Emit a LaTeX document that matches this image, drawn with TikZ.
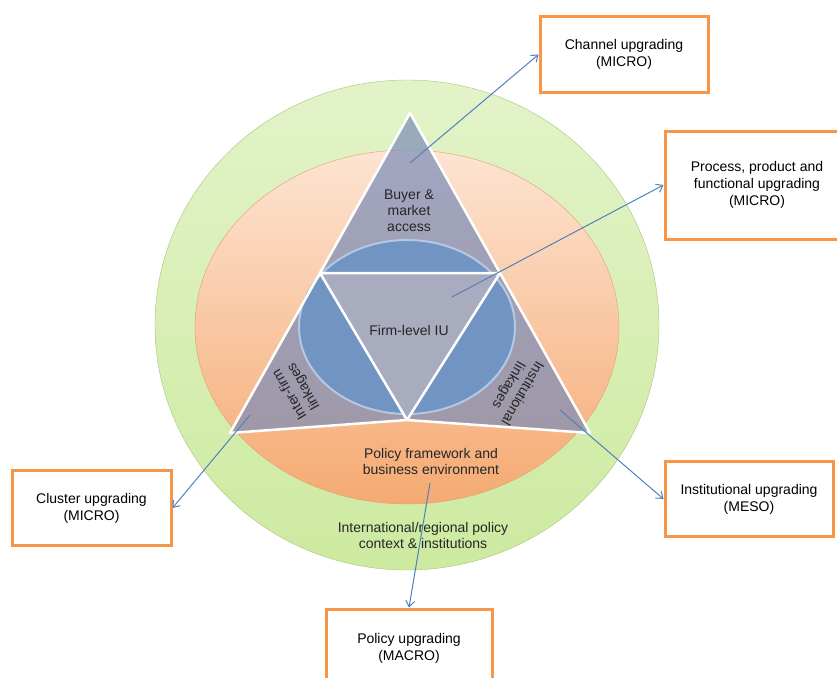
\documentclass[tikz,border=0pt]{standalone}
\usepackage{fontspec}
\setmainfont{Liberation Sans}
\usetikzlibrary{arrows.meta}
\definecolor{greentop}{HTML}{E3F3C9}
\definecolor{greenbot}{HTML}{CDEAA0}
\definecolor{greenline}{HTML}{A9C47A}
\definecolor{orangetop}{HTML}{FDE4D2}
\definecolor{orangebot}{HTML}{F5AA72}
\definecolor{orangeline}{HTML}{E0A070}
\definecolor{trifill}{rgb}{0.48,0.55,0.72}
\definecolor{midgray}{HTML}{A9ABBF}
\definecolor{ellipseblue}{HTML}{7194C3}
\definecolor{ellipseline}{HTML}{B4C8E4}
\definecolor{boxorange}{HTML}{F79646}
\definecolor{linkblue}{HTML}{4F81BD}
\begin{document}
\begin{tikzpicture}[x=1pt, y=-1pt,
  txt/.style={align=center, text=black!85, font=\fontsize{14}{16}\selectfont},
  upgrade/.style={draw=boxorange, line width=3pt, fill=white, minimum width=168pt,
    minimum height=75pt, align=center, font=\fontsize{14}{17}\selectfont},
  link/.style={draw=linkblue, line width=1pt, -{Straight Barb[length=6pt,width=9pt]}}]
  \useasboundingbox (0,0) rectangle (837,677);
  \coordinate (T) at (410,113);
  \coordinate (L) at (230,433);
  \coordinate (R) at (590,433);
  \coordinate (M) at (407,420);
  \coordinate (TL) at (320,273);
  \coordinate (TR) at (500,273);
  % rings
  \draw[greenline, top color=greentop, bottom color=greenbot]
    (407,325) ellipse [x radius=252, y radius=245];
  \draw[orangeline, top color=orangetop, bottom color=orangebot]
    (407,327) ellipse [x radius=212, y radius=177];
  % triangles
  \fill[trifill, fill opacity=.7] (T) -- (L) -- (M) -- (R) -- cycle;
  \draw[ellipseline, fill=ellipseblue, line width=2pt]
    (407,327) ellipse [x radius=108, y radius=87];
  \fill[midgray] (TL) -- (TR) -- (M) -- cycle;
  \draw[white, line width=2.5pt, line join=round]
    (T) -- (L) -- (M) -- (R) -- cycle (TL) -- (TR) -- (M) -- cycle;
  \node[txt] (buyer) at (409,211) {Buyer \&\\market\\access};
  \node[txt] (firm) at (409,330) {Firm-level IU};
  \node[txt, rotate=120] (inter) at (297,390) {Inter-firm\\linkages};
  \node[txt, rotate=-120] (instl) at (515,389) {Institutional\\linkages};
  \node[txt] (policy) at (431,461) {Policy framework and\\business environment};
  \node[txt] (intl) at (423,535) {International/regional policy\\context \& institutions};
  % upgrading boxes
  \node[upgrade] (chan) at (624,54.5) {Channel upgrading\\(MICRO)};
  \node[upgrade, minimum width=184pt, minimum height=108pt] (proc) at (757,185)
    {Process, product and\\functional upgrading\\(MICRO)};
  \node[upgrade, minimum width=159pt] (clus) at (91.5,508) {Cluster upgrading\\(MICRO)};
  \node[upgrade] (instup) at (749,499) {Institutional upgrading\\(MESO)};
  \node[upgrade, minimum width=166pt, minimum height=78pt] (polup) at (409,648)
    {Policy upgrading\\(MACRO)};
  % arrows
  \coordinate (a1) at (410,163);
  \coordinate (a2) at (452,297);
  \coordinate (a3) at (250,415);
  \coordinate (a4) at (560,410);
  \coordinate (a5) at (430,483);
  \draw[link] (a1) -- (chan.west);
  \draw[link] (a2) -- (proc.west);
  \draw[link] (a3) -- (clus.east);
  \draw[link] (a4) -- (instup.west);
  \draw[link] (a5) -- (polup.north);
\end{tikzpicture}
\end{document}
